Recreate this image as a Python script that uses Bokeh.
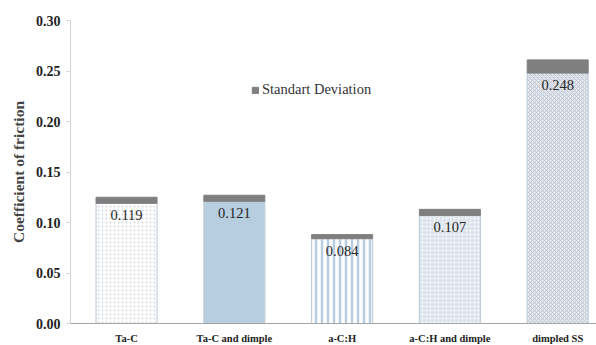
from bokeh.plotting import figure
from bokeh.models import (ColumnDataSource, Legend, LegendItem, Range1d,
                          FixedTicker, CustomJSTickFormatter)
from bokeh.embed import file_html
from bokeh.resources import INLINE

# Coefficient of friction per surface, with standard deviation
categories = ["Ta-C", "Ta-C and dimple", "a-C:H", "a-C:H and dimple", "dimpled SS"]
cof = [0.119, 0.121, 0.084, 0.107, 0.248]
std_dev = [0.006, 0.006, 0.004, 0.006, 0.013]
y_ticks = [0.00, 0.05, 0.10, 0.15, 0.20, 0.25, 0.30]

SERIF = "Times New Roman, Liberation Serif, serif"

fills = ["#ffffff", "#b7cde0", "#ffffff", "#dde4ec", "#e4e8ee"]
hatches = ["dot", " ", "vertical_line", "dot", "diagonal_cross"]
hatch_colors = ["#d3d7dd", "#b7cde0", "#b9cde0", "#ffffff", "#b6c0cd"]
hatch_scales = [4, 4, 6, 4, 4]
hatch_weights = [1.0, 1.0, 2.5, 1.2, 0.8]

# category slots sit at 0.5, 1.5, ... on a numeric axis
xpos = [i + 0.5 for i in range(len(categories))]

src = ColumnDataSource(dict(
    x=xpos, top=cof,
    sd_top=[c + s for c, s in zip(cof, std_dev)],
    label=[f"{c:.3f}" for c in cof],
    fill=fills, hatch=hatches, hcol=hatch_colors, hscale=hatch_scales, hw=hatch_weights,
))

p = figure(
    frame_width=526, frame_height=303,
    x_range=Range1d(-0.02, 4.86),
    y_range=Range1d(0, 0.30),
    output_backend="svg", toolbar_location=None,
    min_border_left=70, min_border_right=0, min_border_top=20, min_border_bottom=20,
)
p.outline_line_color = None
p.xgrid.visible = False
p.ygrid.visible = False

p.vbar(x="x", top="top", width=0.566, source=src,
       fill_color="fill", line_color="#c3cfdc", line_width=1.2,
       hatch_pattern="hatch", hatch_color="hcol", hatch_scale="hscale", hatch_weight="hw")

sd_r = p.vbar(x="x", bottom="top", top="sd_top", width=0.566, source=src,
              fill_color="#7f7f7f", line_color="#7f7f7f")

p.text(x="x", y="top", text="label", source=src, text_align="center",
       text_baseline="top", y_offset=7, text_font_size="14.5px",
       text_font={"value": SERIF}, text_color="#262626")

legend = Legend(items=[LegendItem(label="Standart Deviation", renderers=[sd_r])],
                location=(181, 225), orientation="horizontal",
                background_fill_alpha=0, border_line_color=None,
                label_text_font=SERIF, label_text_font_size="14.5px",
                label_text_color="#333333", glyph_width=8, glyph_height=8,
                label_standoff=3, padding=0, margin=0)
p.add_layout(legend)

p.yaxis.ticker = FixedTicker(ticks=y_ticks)
p.yaxis.formatter = CustomJSTickFormatter(code="return tick.toFixed(2);")
p.yaxis.axis_label = "Coefficient of friction"
p.yaxis.axis_label_text_font = SERIF
p.yaxis.axis_label_text_font_style = "bold"
p.yaxis.axis_label_text_font_size = "15.5px"
p.yaxis.axis_label_standoff = 6
p.yaxis.major_label_text_font = SERIF
p.yaxis.major_label_text_font_style = "bold"
p.yaxis.major_label_text_font_size = "14px"
p.yaxis.major_label_text_color = "#222222"
p.yaxis.axis_line_color = "#d4d4d4"
p.yaxis.major_tick_line_color = "#d4d4d4"
p.yaxis.major_tick_in = 0
p.yaxis.major_tick_out = 4
p.yaxis.minor_tick_line_color = None
p.yaxis.major_label_standoff = 6

p.xaxis.ticker = FixedTicker(ticks=xpos)
p.xaxis.major_label_overrides = {x: c for x, c in zip(xpos, categories)}
p.xaxis.axis_line_color = "#a6a6a6"
p.xaxis.major_tick_line_color = None
p.xaxis.minor_tick_line_color = None
p.xaxis.major_label_text_font = SERIF
p.xaxis.major_label_text_font_style = "bold"
p.xaxis.major_label_text_font_size = "10.5px"
p.xaxis.major_label_text_color = "#222222"
p.xaxis.major_label_standoff = 3

open("out.html", "w").write(file_html(p, INLINE))
